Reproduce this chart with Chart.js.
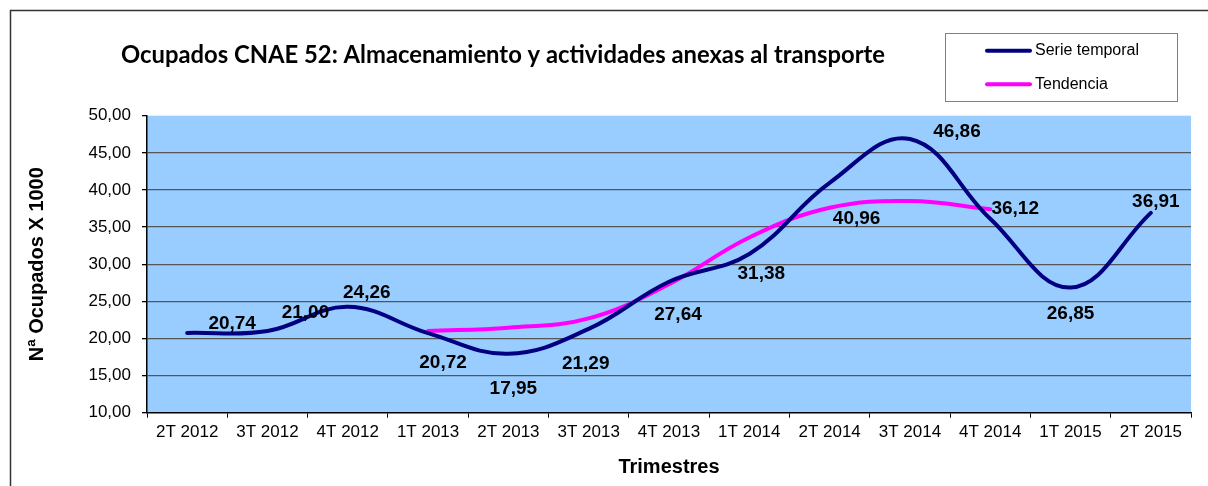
<!DOCTYPE html>
<html>
<head>
<meta charset="utf-8">
<script src="https://cdn.jsdelivr.net/npm/chart.js@4.4.1/dist/chart.umd.min.js"></script>
<style>
html,body{margin:0;padding:0;background:#ffffff;}
#wrap{width:1208px;height:486px;position:relative;}
</style>
</head>
<body>
<div id="wrap"><canvas id="c" width="1208" height="486"></canvas></div>
<script>
// ---- Data ----
const categories = ['2T 2012','3T 2012','4T 2012','1T 2013','2T 2013','3T 2013','4T 2013','1T 2014','2T 2014','3T 2014','4T 2014','1T 2015','2T 2015'];
const serieTemporal = [20.74, 21.00, 24.26, 20.72, 17.95, 21.29, 27.64, 31.38, 40.96, 46.86, 36.12, 26.85, 36.91];
const tendencia = [null, null, null, 21.0, 21.45, 22.7, 27.3, 33.6, 37.6, 38.5, 37.4, null, null];
const yMin = 10, yMax = 50, yStep = 5;
const chartTitle = 'Ocupados CNAE 52: Almacenamiento y actividades anexas al transporte';
const yTitle = 'Nª Ocupados X 1000';
const xTitle = 'Trimestres';
const seriesNames = ['Serie temporal', 'Tendencia'];

// ---- Styling / layout ----
const fmt = v => v.toFixed(2).replace('.', ',');
const PLOT_LEFT = 147, PLOT_TOP = 115.7, PLOT_BOTTOM = 412.7, RIGHT_PAD = 17;
const W = 1208, H = 486;

const labelOffsets = [[45,-9],[38,-18],[19,-14],[15,30],[5,35],[-3,35],[9,33],[12,20],[27,36],[47,-7],[25,-10],[0,26],[5,-11]];

const framePlugin = {
  id: 'frame',
  beforeDraw(chart) {
    const {ctx, chartArea} = chart;
    ctx.save();
    ctx.fillStyle = '#ffffff';
    ctx.fillRect(0, 0, W, H);
    ctx.fillStyle = '#99CCFF';
    ctx.fillRect(chartArea.left, chartArea.top, chartArea.right - chartArea.left, chartArea.bottom - chartArea.top);
    ctx.strokeStyle = '#333333';
    ctx.lineWidth = 1.5;
    ctx.beginPath();
    ctx.moveTo(10.5, H);
    ctx.lineTo(10.5, 10.5);
    ctx.lineTo(W, 10.5);
    ctx.stroke();
    ctx.restore();
  },
  afterDraw(chart) {
    const ctx = chart.ctx;
    ctx.save();
    // title
    ctx.fillStyle = '#000';
    ctx.textAlign = 'center';
    ctx.textBaseline = 'middle';
    let size = 22;
    ctx.font = 'bold ' + size + 'px Lato';
    const w = ctx.measureText(chartTitle).width;
    size = size * 764 / w;
    ctx.font = 'bold ' + size.toFixed(2) + 'px Lato';
    ctx.fillText(chartTitle, 503, 55);
    // legend
    ctx.strokeStyle = '#808080';
    ctx.lineWidth = 1;
    ctx.strokeRect(945.5, 33.5, 232, 68);
    const ys = [50.7, 84.3];
    chart.data.datasets.forEach((ds, i) => {
      ctx.strokeStyle = ds.borderColor;
      ctx.lineWidth = 4;
      ctx.lineCap = 'round';
      ctx.beginPath();
      ctx.moveTo(987, ys[i]);
      ctx.lineTo(1030, ys[i]);
      ctx.stroke();
      ctx.fillStyle = '#000';
      ctx.textAlign = 'left';
      ctx.textBaseline = 'middle';
      ctx.font = '16px Arial, "Liberation Sans"';
      ctx.fillText(ds.label, 1035, ys[i]);
    });
    ctx.restore();
  },
  afterDatasetsDraw(chart) {
    const ctx = chart.ctx;
    const meta = chart.getDatasetMeta(0);
    ctx.save();
    ctx.fillStyle = '#000';
    ctx.font = 'bold 19px Arial, "Liberation Sans"';
    ctx.textAlign = 'center';
    ctx.textBaseline = 'middle';
    meta.data.forEach((pt, i) => {
      const v = chart.data.datasets[0].data[i];
      const off = labelOffsets[i];
      ctx.fillText(fmt(v), pt.x + off[0], pt.y + off[1]);
    });
    ctx.restore();
  }
};

new Chart(document.getElementById('c'), {
  type: 'line',
  data: {
    labels: categories,
    datasets: [
      { label: seriesNames[0], data: serieTemporal, borderColor: '#000080', borderWidth: 4, pointRadius: 0, tension: 0.4, fill: false, borderCapStyle: 'round' },
      { label: seriesNames[1], data: tendencia, borderColor: '#FF00FF', borderWidth: 4, pointRadius: 0, tension: 0.4, fill: false, spanGaps: false, borderCapStyle: 'round' }
    ]
  },
  options: {
    responsive: false,
    animation: false,
    devicePixelRatio: 1,
    layout: { padding: { left: 0, top: PLOT_TOP, right: RIGHT_PAD, bottom: 0 } },
    plugins: { legend: { display: false }, title: { display: false }, tooltip: { enabled: false } },
    scales: {
      x: {
        type: 'category',
        offset: true,
        afterFit(scale) { scale.height = H - PLOT_BOTTOM; },
        grid: { display: true, offset: true, drawOnChartArea: false, drawTicks: true, tickLength: 5, tickColor: '#000', color: '#000', lineWidth: 1 },
        border: { display: true, color: '#000', width: 1.5 },
        ticks: { color: '#000', font: { family: 'Arial, "Liberation Sans"', size: 17 }, padding: 4, maxRotation: 0, autoSkip: false },
        title: { display: true, text: xTitle, color: '#000', font: { family: 'Arial, "Liberation Sans"', size: 20, weight: 'bold' }, padding: { top: 0, bottom: 7 } }
      },
      y: {
        min: yMin, max: yMax,
        afterFit(scale) { scale.width = PLOT_LEFT; },
        ticks: { stepSize: yStep, color: '#000', font: { family: 'Arial, "Liberation Sans"', size: 17 }, padding: 11, callback: v => fmt(v) },
        grid: { drawTicks: true, tickLength: 5, tickColor: '#000', color: ctx => (ctx.tick && (ctx.tick.value === yMax || ctx.tick.value === yMin)) ? 'rgba(0,0,0,0)' : '#555555', lineWidth: 1.3 },
        border: { display: true, color: '#000', width: 1.5 },
        title: { display: true, text: yTitle, color: '#000', font: { family: 'Arial, "Liberation Sans"', size: 20, weight: 'bold' }, padding: { top: 25, bottom: 0 } }
      }
    }
  },
  plugins: [framePlugin]
});
</script>
</body>
</html>
